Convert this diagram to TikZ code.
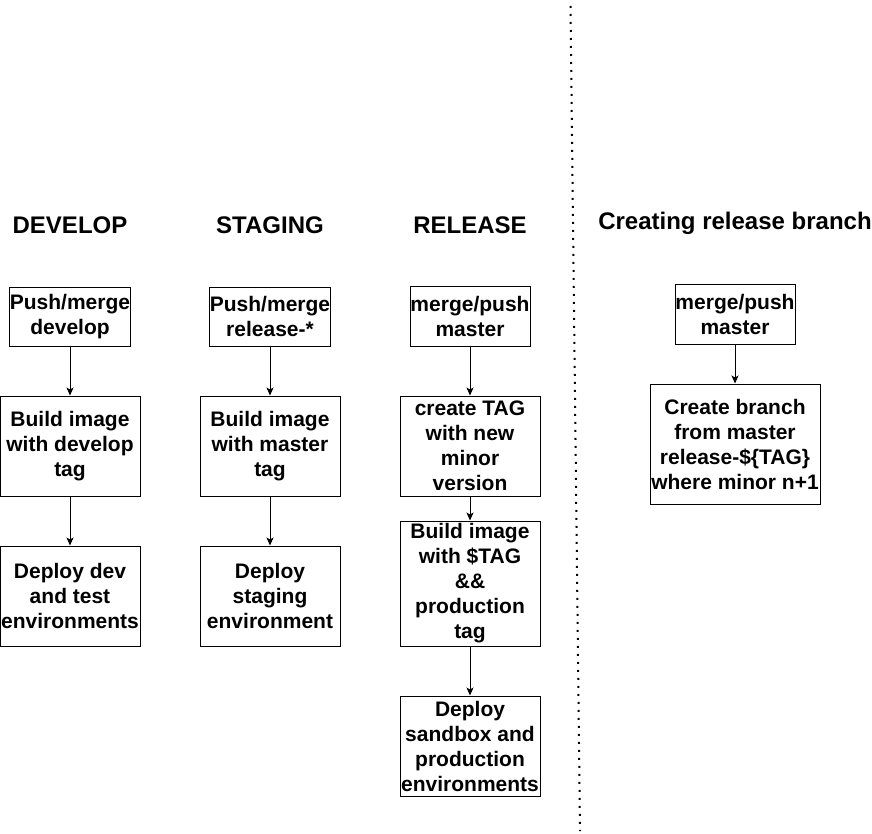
\documentclass[tikz,border=0pt]{standalone}
\usepackage{fontspec}
\setmainfont{Liberation Sans}
\usetikzlibrary{arrows.meta}
\begin{document}
\begin{tikzpicture}[x=1pt,y=-1pt,
  box/.style={draw,line width=1pt,inner sep=0pt,align=center,
    font=\fontsize{21}{25}\selectfont\bfseries},
  title/.style={font=\fontsize{24}{28}\selectfont\bfseries,inner sep=0pt},
  conn/.style={draw,line width=1pt,-{Stealth[length=8pt,width=7pt,inset=2pt]}}]
\useasboundingbox (0,0) rectangle (872,834);
% DEVELOP
\node[title] (t1) at (70,225) {DEVELOP};
\node[box,minimum width=120pt,minimum height=59pt] (d1) at (70,316.5) {Push/merge\\develop};
\node[box,minimum width=140pt,minimum height=100pt] (d2) at (70,446) {Build image\\with develop\\tag};
\node[box,minimum width=140pt,minimum height=100pt] (d3) at (70,596) {Deploy dev\\and test\\environments};
\draw[conn] (d1) -- (d2);
\draw[conn] (d2) -- (d3);
% STAGING
\node[title] (t2) at (270,225) {STAGING};
\node[box,minimum width=120pt,minimum height=59pt] (s1) at (270,316.5) {Push/merge\\release-*};
\node[box,minimum width=140pt,minimum height=100pt] (s2) at (270,446) {Build image\\with master\\tag};
\node[box,minimum width=140pt,minimum height=100pt] (s3) at (270,596) {Deploy\\staging\\environment};
\draw[conn] (s1) -- (s2);
\draw[conn] (s2) -- (s3);
% RELEASE
\node[title] (t3) at (470,225) {RELEASE};
\node[box,minimum width=120pt,minimum height=60pt] (r1) at (470,316) {merge/push\\master};
\node[box,minimum width=140pt,minimum height=100pt] (r2) at (470,446) {create TAG\\with new\\minor\\version};
\node[box,minimum width=140pt,minimum height=125pt] (r3) at (470,583.5) {Build image\\with \$TAG\\\&\&\\production\\tag};
\node[box,minimum width=140pt,minimum height=100pt] (r4) at (470,746) {Deploy\\sandbox and\\production\\environments};
\draw[conn] (r1) -- (r2);
\draw[conn] (r2) -- (r3);
\draw[conn] (r3) -- (r4);
% separator
\coordinate (sepA) at (570.5,6);
\coordinate (sepB) at (580,831);
\draw[line width=2pt,dash pattern=on 2pt off 6pt] (sepA) -- (sepB);
% Creating release branch
\node[title] (t4) at (735,223) {Creating release branch};
\node[box,minimum width=120pt,minimum height=60pt] (c1) at (735,314) {merge/push\\master};
\node[box,minimum width=170pt,minimum height=120pt] (c2) at (735,444) {Create branch\\from master\\release-\$\{TAG\}\\where minor n+1};
\draw[conn] (c1) -- (c2);
\end{tikzpicture}
\end{document}
